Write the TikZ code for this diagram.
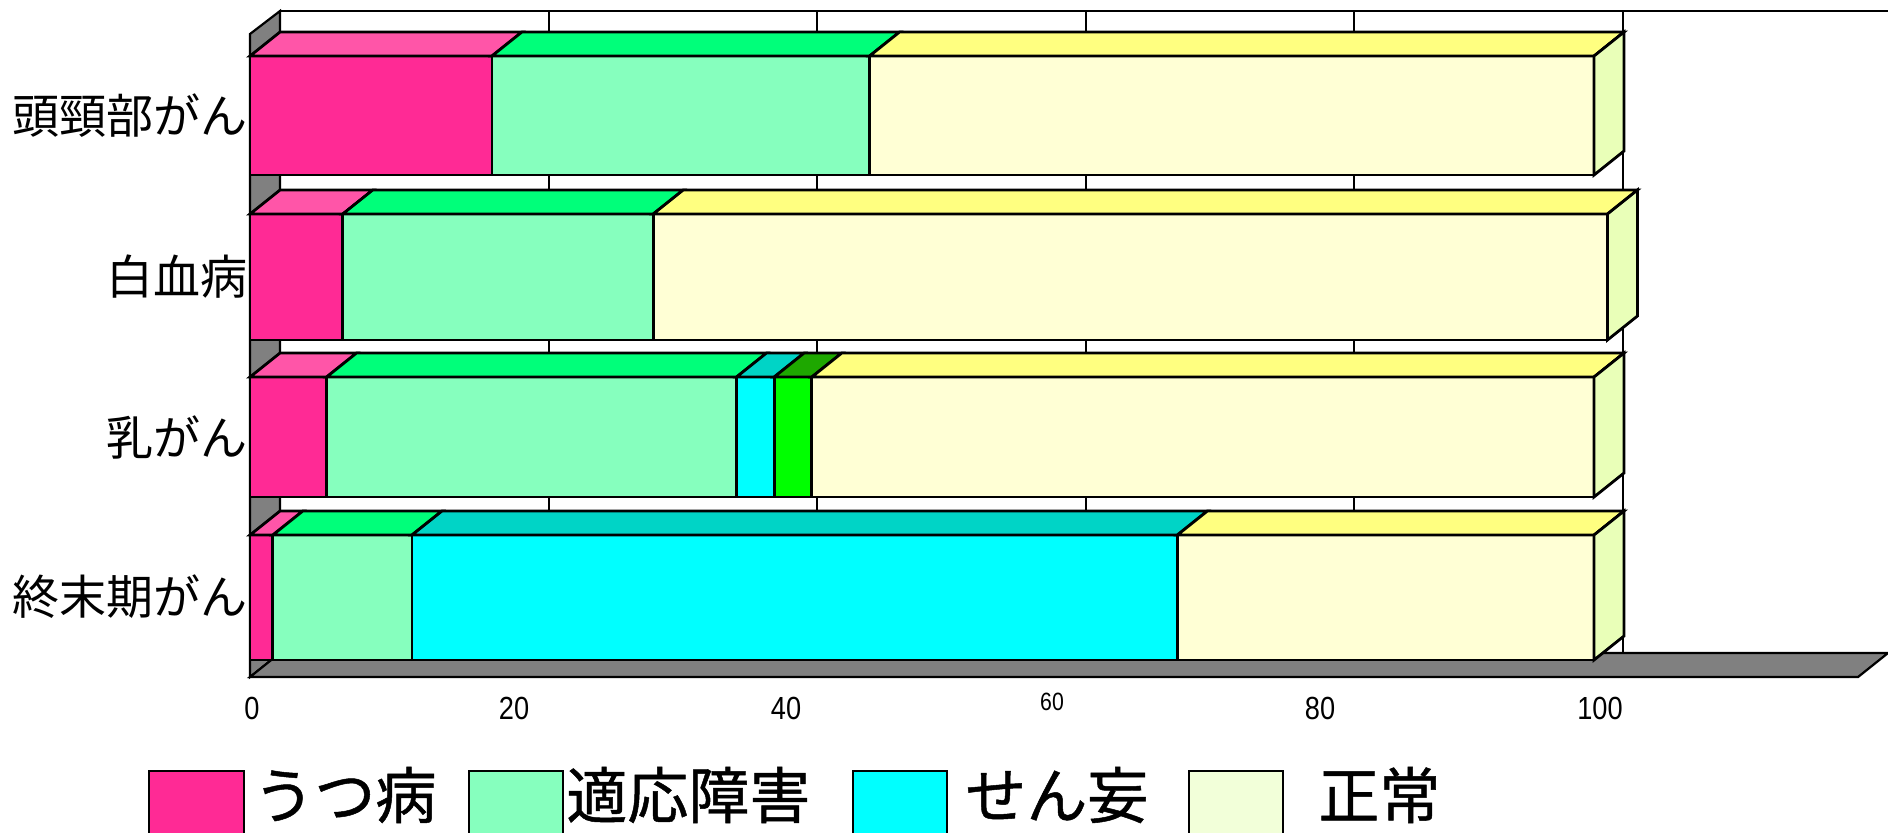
\documentclass[tikz,border=0pt]{standalone}
\usepackage{fontspec}
\setmainfont{Liberation Sans}
\newfontfamily\jp{Noto Sans CJK JP}
\newfontfamily\jpb[FakeBold=0.8]{Noto Sans CJK JP}
\definecolor{pinkF}{HTML}{FF2A95}
\definecolor{pinkT}{HTML}{FF55A8}
\definecolor{greenF}{HTML}{86FFBE}
\definecolor{greenT}{HTML}{00FF7A}
\definecolor{yelF}{HTML}{FFFFD5}
\definecolor{yelT}{HTML}{FFFF80}
\definecolor{cyanF}{HTML}{00FFFF}
\definecolor{cyanT}{HTML}{00D4C6}
\definecolor{grnF}{HTML}{00FF00}
\definecolor{grnT}{HTML}{1EA800}
\definecolor{sideC}{HTML}{E9FFB8}
\definecolor{wallG}{HTML}{808080}
\definecolor{normL}{HTML}{F2FFD9}
\tikzset{
  barline/.style={draw=black, line width=1.4pt, line join=miter},
  gridline/.style={draw=black, line width=1pt},
  wallline/.style={draw=black, line width=1.1pt},
  legbox/.style={draw=black, line width=0.9pt},
  catlabel/.style={anchor=east, inner sep=0pt, font=\jp\fontsize{23.5}{24}\selectfont},
  leglabel/.style={anchor=west, inner sep=0pt, font=\jpb\fontsize{30.5}{31}\selectfont},
  ticklabel/.style={inner sep=0pt, font=\fontsize{16}{16}\selectfont}
}
% front segment with top face: v1 v2 yt yb front top
\newcommand\barseg[6]{%
  \filldraw[barline, fill=#5] ({250+13.44*#1},#3) rectangle ({250+13.44*#2},#4);
  \filldraw[barline, fill=#6] ({250+13.44*#1},#3) -- ({280+13.44*#1},{#3-24}) -- ({280+13.44*#2},{#3-24}) -- ({250+13.44*#2},#3) -- cycle;
}
% right side face: v yt yb
\newcommand\barside[3]{%
  \filldraw[barline, fill=sideC] ({250+13.44*#1},#2) -- ({280+13.44*#1},{#2-24}) -- ({280+13.44*#1},{#3-24}) -- ({250+13.44*#1},#3) -- cycle;
}
\begin{document}
\begin{tikzpicture}[x=0.5pt,y=-0.5pt]
\useasboundingbox (0,0) rectangle (1888,832);
\fill[white] (0,0) rectangle (1888,832);
% back wall
\draw[gridline] (280,11) -- (1888,11);
\foreach \v in {20,40,60,80,100} {
  \draw[gridline] ({280+13.43*\v},11) -- ({280+13.43*\v},653);
}
% left wall and floor
\filldraw[wallline, fill=wallG] (250,34) -- (280,11) -- (280,653) -- (250,677) -- cycle;
\filldraw[wallline, fill=wallG] (250,677) -- (280,653) -- (1888,653) -- (1858,677) -- cycle;
% bar 1
\barseg{0}{18.0}{56}{175}{pinkF}{pinkT}
\barseg{18.0}{46.1}{56}{175}{greenF}{greenT}
\barseg{46.1}{100}{56}{175}{yelF}{yelT}
\barside{100}{56}{175}
% bar 2
\barseg{0}{6.9}{214}{340}{pinkF}{pinkT}
\barseg{6.9}{30.0}{214}{340}{greenF}{greenT}
\barseg{30.0}{101.0}{214}{340}{yelF}{yelT}
\barside{101.0}{214}{340}
% bar 3
\barseg{0}{5.7}{377}{497}{pinkF}{pinkT}
\barseg{5.7}{36.2}{377}{497}{greenF}{greenT}
\barseg{36.2}{39.0}{377}{497}{cyanF}{cyanT}
\barseg{39.0}{41.8}{377}{497}{grnF}{grnT}
\barseg{41.8}{100}{377}{497}{yelF}{yelT}
\barside{100}{377}{497}
% bar 4
\barseg{0}{1.7}{535}{660}{pinkF}{pinkT}
\barseg{1.7}{12.05}{535}{660}{greenF}{greenT}
\barseg{12.05}{69.0}{535}{660}{cyanF}{cyanT}
\barseg{69.0}{100}{535}{660}{yelF}{yelT}
\barside{100}{535}{660}
% category labels
\node[catlabel] (c1) at (248,116) {頭頸部がん};
\node[catlabel] (c2) at (248,277) {白血病};
\node[catlabel] (c3) at (248,437) {乳がん};
\node[catlabel] (c4) at (248,597) {終末期がん};
% tick labels
\node[ticklabel] (t0) at (252,708) {\scalebox{0.85}[1]{0}};
\node[ticklabel] (t20) at (514,708) {\scalebox{0.85}[1]{20}};
\node[ticklabel] (t40) at (786,708) {\scalebox{0.85}[1]{40}};
\node[ticklabel, font=\fontsize{12.5}{13}\selectfont] (t60) at (1052,702) {\scalebox{0.85}[1]{60}};
\node[ticklabel] (t80) at (1320,708) {\scalebox{0.85}[1]{80}};
\node[ticklabel] (t100) at (1600,708) {\scalebox{0.85}[1]{100}};
% legend
\filldraw[legbox, fill=pinkF] (149,771) rectangle (244,860);
\node[leglabel] (l1) at (253,795) {うつ病};
\filldraw[legbox, fill=greenF] (469,771) rectangle (563,860);
\node[leglabel] (l2) at (566,795) {適応障害};
\filldraw[legbox, fill=cyanF] (853,771) rectangle (947,860);
\node[leglabel] (l3) at (965,795) {せん妄};
\filldraw[legbox, fill=normL] (1189,771) rectangle (1283,860);
\node[leglabel] (l4) at (1318,795) {正常};
\end{tikzpicture}
\end{document}
